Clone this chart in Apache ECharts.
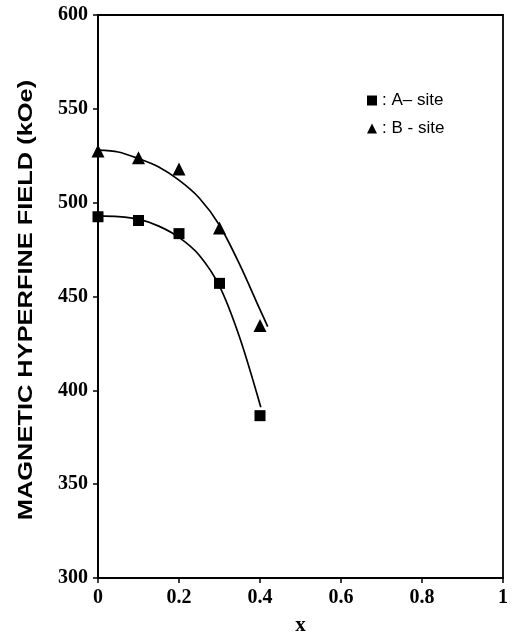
<!DOCTYPE html>
<html>
<head>
<meta charset="utf-8">
<script src="https://cdn.jsdelivr.net/npm/echarts@6/dist/echarts.min.js"></script>
<style>html,body{margin:0;padding:0;background:#fff}#c{width:512px;height:641px}</style>
</head>
<body>
<div id="c"></div>
<script>
// Measured points
const xPoints = [0, 0.1, 0.2, 0.3, 0.4];
const aSite = [492.5, 490.5, 483.5, 457, 386.5];
const bSite = [527.5, 524, 518, 486.5, 434.5];
// Fitted curves
const aCurveX = [0, 0.05, 0.1, 0.15, 0.2, 0.25, 0.3, 0.35, 0.402];
const aCurveY = [493, 492.6, 491.2, 487.5, 481.5, 472, 455.5, 428, 391];
const bCurveX = [0, 0.05, 0.1, 0.15, 0.2, 0.25, 0.3, 0.35, 0.4, 0.419];
const bCurveY = [528, 527, 523.5, 519, 512, 502.5, 488, 467, 443, 434];
// Axis ticks
const xTicks = [0, 0.2, 0.4, 0.6, 0.8, 1];
const yTicks = [300, 350, 400, 450, 500, 550, 600];
const yTitle = 'MAGNETIC HYPERFINE FIELD (kOe)';
const legendNames = ['A', 'B'];
const legendLabels = { A: ': A\u2013 site', B: ': B - site' };

const zip = (xs, ys) => xs.map((x, i) => [x, ys[i]]);

const chart = echarts.init(document.getElementById('c'), null, { renderer: 'canvas' });
const axisFont = { fontFamily: 'Liberation Serif', fontWeight: 'bold', fontSize: 20, color: '#000' };
chart.setOption({
  animation: false,
  backgroundColor: '#fff',
  grid: { left: 98, right: 9, top: 15, bottom: 63, show: true, borderColor: '#000', borderWidth: 1.8, backgroundColor: 'transparent' },
  graphic: [{
    type: 'text', x: 26, y: 300, rotation: Math.PI / 2, scaleX: 1.27,
    style: { text: yTitle, font: 'bold 20px "Liberation Sans"', fill: '#000', align: 'center', verticalAlign: 'middle' }
  }],
  legend: {
    data: legendNames,
    orient: 'vertical',
    left: 362,
    top: 87,
    itemGap: 11,
    itemWidth: 10,
    itemHeight: 10,
    formatter: n => legendLabels[n],
    textStyle: { fontFamily: 'Liberation Sans', fontSize: 17, color: '#000' }
  },
  xAxis: {
    type: 'value', min: xTicks[0], max: xTicks[xTicks.length - 1], interval: 0.2,
    name: 'x', nameLocation: 'middle', nameGap: 37,
    nameTextStyle: { fontFamily: 'Liberation Serif', fontWeight: 'bold', fontSize: 21, color: '#000' },
    axisLine: { lineStyle: { color: '#000', width: 1.8 } },
    axisTick: { show: true, inside: false, length: 5, lineStyle: { color: '#000', width: 1.5 } },
    axisLabel: Object.assign({ margin: 10, formatter: v => String(+v.toFixed(1)) }, axisFont),
    splitLine: { show: false }
  },
  yAxis: {
    type: 'value', min: yTicks[0], max: yTicks[yTicks.length - 1], interval: 50,
    axisLine: { lineStyle: { color: '#000', width: 1.8 } },
    axisTick: { show: true, inside: false, length: 5, lineStyle: { color: '#000', width: 1.5 } },
    axisLabel: Object.assign({ margin: 10 }, axisFont),
    splitLine: { show: false }
  },
  series: [
    { name: 'Acurve', type: 'line', data: zip(aCurveX, aCurveY), smooth: 0.3, showSymbol: false, symbol: 'none',
      lineStyle: { color: '#000', width: 1.7 }, z: 2 },
    { name: 'Bcurve', type: 'line', data: zip(bCurveX, bCurveY), smooth: 0.3, showSymbol: false, symbol: 'none',
      lineStyle: { color: '#000', width: 1.7 }, z: 2 },
    { name: 'A', type: 'scatter', data: zip(xPoints, aSite), symbol: 'rect', symbolSize: 11, itemStyle: { color: '#000', opacity: 1 }, z: 3 },
    { name: 'B', type: 'scatter', data: zip(xPoints, bSite), symbol: 'triangle', symbolSize: 13, itemStyle: { color: '#000', opacity: 1 }, z: 3 }
  ]
});
</script>
</body>
</html>
